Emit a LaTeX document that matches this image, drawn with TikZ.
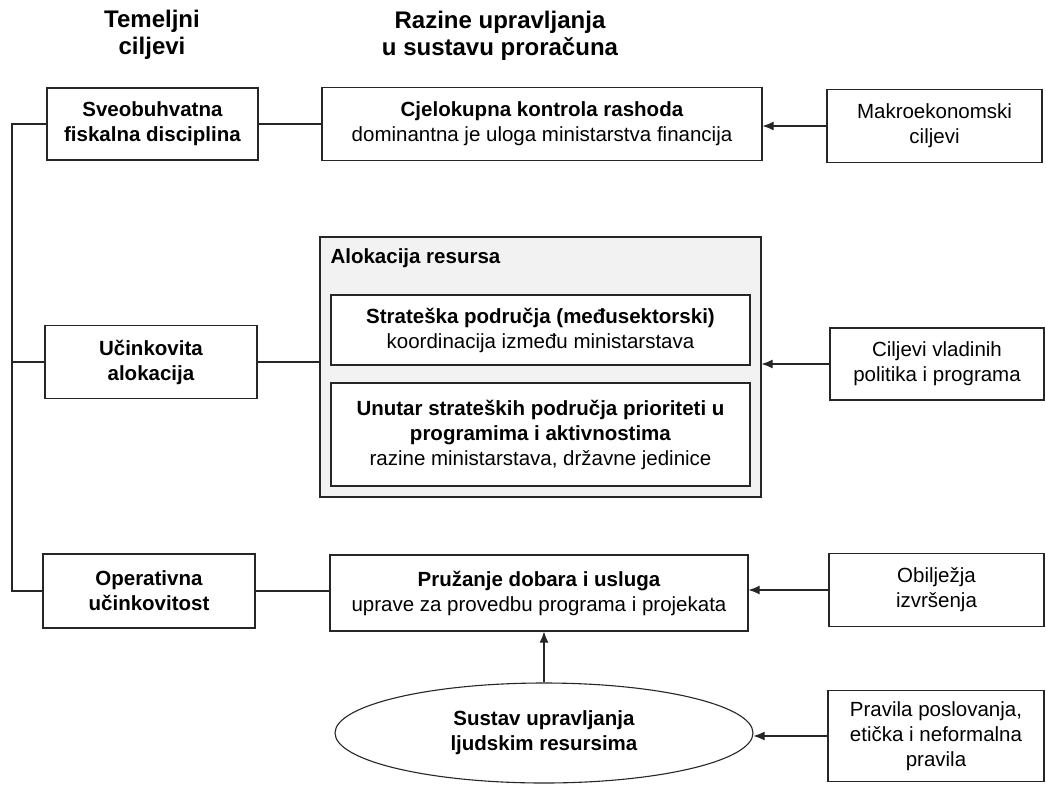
\documentclass[tikz,border=0pt]{standalone}
\usepackage{fontspec}
\setmainfont{Liberation Sans}
\usetikzlibrary{shapes.geometric,arrows.meta}
\tikzset{box/.style={draw=black!85, line width=1.1pt, fill=white, align=center,
           inner sep=0pt, font=\fontsize{20.5}{25}\selectfont},
         head/.style={align=center, font=\fontsize{24}{26.5}\selectfont\bfseries},
         feed/.style={-{Latex[length=11pt,width=9pt]}, line width=1.1pt, draw=black!85},
         link/.style={line width=1.1pt, draw=black!85}}

\begin{document}
\begin{tikzpicture}[x=1pt,y=-1pt]
\useasboundingbox (0,0) rectangle (1046,784);

% headings
\node[head] (hgoal) at (152,35) {Temeljni\\ciljevi};
\node[head] (hlev) at (500,36) {Razine upravljanja\\u sustavu proračuna};

% fundamental goals
\node[box, minimum width=211, minimum height=72] (goal1) at (152.5,124) {\textbf{Sveobuhvatna}\\\textbf{fiskalna disciplina}};
\node[box, minimum width=212, minimum height=73] (goal2) at (151,362) {\textbf{Učinkovita}\\\textbf{alokacija}};
\node[box, minimum width=212, minimum height=74] (goal3) at (149,591) {\textbf{Operativna}\\\textbf{učinkovitost}};

% levels
\node[box, minimum width=440, minimum height=73] (lev1) at (542,124) {\textbf{Cjelokupna kontrola rashoda}\\dominantna je uloga ministarstva financija};
\node[box, fill=gray!10, minimum width=441, minimum height=260] (aloc) at (540.5,367) {};
\node[anchor=base west, font=\fontsize{20.5}{25}\selectfont\bfseries] (aloct) at (327,263) {Alokacija resursa};
\node[box, minimum width=419, minimum height=70] (strat) at (540.5,330) {\textbf{Strateška područja (međusektorski)}\\koordinacija između ministarstava};
\node[box, minimum width=419, minimum height=103] (prio) at (540.5,434.5) {\textbf{Unutar strateških područja prioriteti u}\\\textbf{programima i aktivnostima}\\razine ministarstava, državne jedinice};
\node[box, minimum width=418, minimum height=76] (lev3) at (539,593) {\textbf{Pružanje dobara i usluga}\\uprave za provedbu programa i projekata};
\node[box, ellipse, minimum width=418, minimum height=100] (hr) at (544,733) {\textbf{Sustav upravljanja}\\\textbf{ljudskim resursima}};

% sources
\node[box, minimum width=215, minimum height=73] (src1) at (934.5,126) {Makroekonomski\\ciljevi};
\node[box, minimum width=214, minimum height=72] (src2) at (937,364) {Ciljevi vladinih\\politika i programa};
\node[box, minimum width=215, minimum height=73] (src3) at (936.5,590) {Obilježja\\izvršenja};
\node[box, minimum width=216, minimum height=91] (src4) at (936,736) {Pravila poslovanja,\\etička i neformalna\\pravila};

% connectors
\coordinate (bus) at (12,0);
\draw[link] (goal1.west) -- (goal1.west -| bus) -- (goal3.west -| bus) -- (goal3.west);
\draw[link] (goal2.west) -- (goal2.west -| bus);
\draw[link] (goal1.east) -- (goal1.east -| lev1.west);
\draw[link] (goal2.east) -- (goal2.east -| aloc.west);
\draw[link] (goal3.east) -- (goal3.east -| lev3.west);
\draw[feed] (src1.west) -- (src1.west -| lev1.east);
\draw[feed] (src2.west) -- (src2.west -| aloc.east);
\draw[feed] (src3.west) -- (src3.west -| lev3.east);
\draw[feed] (src4.west) -- (src4.west -| hr.east);
\draw[feed] (hr.north) -- (hr.north |- lev3.south);
\end{tikzpicture}
\end{document}
